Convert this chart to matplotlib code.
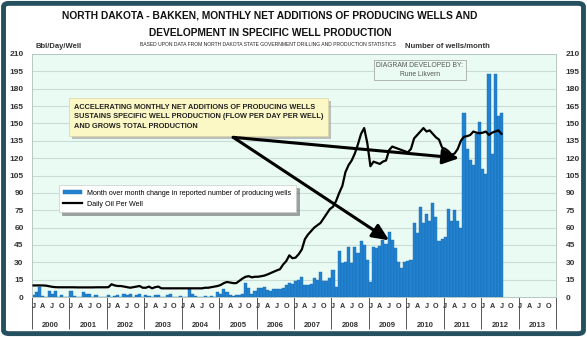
import numpy as np
import matplotlib
matplotlib.use('Agg')
import matplotlib.pyplot as plt
from matplotlib.patches import Rectangle, FancyBboxPatch
from matplotlib.lines import Line2D
from matplotlib.patches import Patch

plt.rcParams['font.family'] = ['Liberation Sans', 'DejaVu Sans']

# month over month change in number of producing wells (right axis)
wells_2000 = [2, 4, 9, 1, 0, 5, 3, 5, 0, 2, 0, 0]
wells_2001 = [5, 1, 0, 0, 4, 3, 3, 0, 2, 0, 0, 0]
wells_2002 = [2, 0, 1, 2, 0, 3, 2, 3, 0, 2, 3, 0]
wells_2003 = [2, 1, 0, 2, 2, 0, 0, 2, 3, 0, 0, 1]
wells_2004 = [0, 0, 7, 3, 1, 0, 0, 1, 0, 1, 0, 4]
wells_2005 = [3, 7, 4, 2, 1, 2, 2, 3, 12, 8, 3, 5]
wells_2006 = [8, 8, 9, 6, 5, 7, 7, 7, 8, 10, 12, 11]
wells_2007 = [14, 15, 17, 10, 10, 11, 16, 15, 22, 14, 14, 16]
wells_2008 = [23, 9, 40, 29, 30, 43, 29, 43, 38, 48, 45, 32]
wells_2009 = [13, 43, 42, 44, 49, 46, 56, 49, 42, 30, 25, 30]
wells_2010 = [31, 32, 64, 55, 78, 64, 72, 66, 81, 69, 48, 50]
wells_2011 = [52, 76, 66, 75, 66, 60, 159, 128, 118, 114, 141, 151]
wells_2012 = [111, 106, 193, 124, 193, 156, 159]

# daily oil per well, bbl/day/well (left axis)
oil_2000 = [10, 10, 10, 10, 9.8, 9.3, 8.8, 8.5, 8.4, 8.4, 8.4, 8.4]
oil_2001 = [8.4, 8.4, 8.3, 8.3, 8.3, 8.3, 8.3, 8.3, 8.4, 8.4, 8.4, 8.4]
oil_2002 = [8.5, 11, 10, 9.5, 9.5, 9, 8.5, 8, 8.5, 9, 9.5, 8]
oil_2003 = [8, 9, 7.5, 8.5, 9, 7.5, 7.5, 7.5, 7.5, 7.5, 7.5, 7.5]
oil_2004 = [7.5, 7.5, 7.5, 7.5, 7.5, 7.5, 7.5, 8, 8, 8.5, 9, 9.5]
oil_2005 = [10.4, 12, 13, 12.5, 12, 12, 14, 16, 17.5, 18, 17, 17.5]
oil_2006 = [17.5, 18, 18.5, 19.5, 20.7, 22, 23, 24, 28, 31, 36, 33.5]
oil_2007 = [34, 37, 41, 50, 54, 57, 60, 62, 64, 68, 72, 76]
oil_2008 = [78, 83, 90, 96, 108, 114, 118, 124, 132, 141, 146, 133]
oil_2009 = [113, 117, 116, 115, 117, 118, 127, 130, 129, 128, 127, 126]
oil_2010 = [125, 128, 137, 140, 143, 146, 143, 144, 141, 138, 136, 129]
oil_2011 = [128, 126, 123, 124, 128, 135, 138.5, 139, 140, 143, 142, 141.5]
oil_2012 = [142, 143, 140, 142, 143, 144, 141]

years = list(range(2000, 2014))
month_letters = ['J', 'A', 'J', 'O']
y_ticks = list(range(0, 211, 15))

wells = np.array(wells_2000 + wells_2001 + wells_2002 + wells_2003 + wells_2004 +
                 wells_2005 + wells_2006 + wells_2007 + wells_2008 + wells_2009 +
                 wells_2010 + wells_2011 + wells_2012)
oil = np.array(oil_2000 + oil_2001 + oil_2002 + oil_2003 + oil_2004 + oil_2005 +
               oil_2006 + oil_2007 + oil_2008 + oil_2009 + oil_2010 + oil_2011 + oil_2012)

W, H = 587, 337
fig = plt.figure(figsize=(W / 100, H / 100), dpi=100)
fig.patch.set_facecolor('white')

# outer frame
frame = FancyBboxPatch((0.006, 0.01), 0.988, 0.98, boxstyle='round,pad=0,rounding_size=0.01',
                       transform=fig.transFigure, facecolor='none', edgecolor='#24505f',
                       linewidth=3.5, zorder=10)
fig.patches.append(frame)

left, right, bottom, top = 32 / W, 556 / W, (H - 297) / H, (H - 54) / H
ax = fig.add_axes([left, bottom, right - left, top - bottom])
ax.set_facecolor('#eafbf4')

nmonths = len(years) * 12
xb = np.arange(len(wells)) + 0.5
xl = np.arange(len(oil)) + 0.5

ax.set_xlim(0, nmonths)
ax.set_ylim(0, 210)
ax.set_yticks(y_ticks)
ax.grid(axis='y', color='#c9ddd6', linewidth=0.8)
ax.set_axisbelow(True)

ax2 = ax.twinx()
ax2.set_ylim(0, 210)
ax2.set_yticks(y_ticks)

ax2.bar(xb, wells, width=1.0, color='#2282d0', edgecolor='#1a6cb2', linewidth=0.3, zorder=2)
ax2.plot(xl, oil, color='black', linewidth=1.6, zorder=3)

for a in (ax, ax2):
    a.set_xticks([])
    for s in a.spines.values():
        s.set_color('#b8c8c2')
        s.set_linewidth(0.6)
    a.tick_params(axis='y', length=0, labelsize=6, labelcolor='#333333')
ax.tick_params(axis='y', pad=6)
ax2.tick_params(axis='y', pad=7)
for lab in ax.get_yticklabels() + ax2.get_yticklabels():
    lab.set_fontweight('bold')

# category axis: month letters, years, separators
tr = ax.get_xaxis_transform()
for i, yr in enumerate(years):
    for k, ml in enumerate(month_letters):
        ax.text(i * 12 + k * 3 + 0.5, -0.038, ml, transform=tr, ha='center', va='center',
                fontsize=5.2, fontweight='bold', color='#333333')
    ax.text(i * 12 + 6, -0.118, str(yr), transform=tr, ha='center', va='center',
            fontsize=5.5, fontweight='bold', color='#333333')
ax.vlines(np.arange(0, nmonths + 1, 12), -0.13, 0, transform=tr, colors='#555555',
          linewidth=0.7, clip_on=False)

# titles
fig.text(270 / W, 1 - 16 / H, 'NORTH DAKOTA - BAKKEN, MONTHLY NET ADDITIONS OF PRODUCING WELLS AND',
         ha='center', va='center', fontsize=7.4, fontweight='bold', color='#111111')
fig.text(270 / W, 1 - 33 / H, 'DEVELOPMENT IN SPECIFIC WELL PRODUCTION',
         ha='center', va='center', fontsize=7.4, fontweight='bold', color='#111111')
fig.text(268 / W, 1 - 45 / H,
         'BASED UPON DATA FROM NORTH DAKOTA STATE GOVERNMENT DRILLING AND PRODUCTION STATISTICS',
         ha='center', va='center', fontsize=3.6, color='#222222')
fig.text(35 / W, 1 - 47 / H, 'Bbl/Day/Well', ha='left', va='center', fontsize=5.5,
         fontweight='bold', color='#333333')
fig.text(490 / W, 1 - 47 / H, 'Number of wells/month', ha='right', va='center', fontsize=5.5,
         fontweight='bold', color='#333333')

# annotation box
bx0, bx1 = (69 - 32) / 524, (328 - 32) / 524
by0, by1 = (297 - 136) / 243, (297 - 98) / 243
ax2.add_patch(Rectangle((bx0 + 0.006, by0 - 0.012), bx1 - bx0, by1 - by0, transform=ax.transAxes,
                        facecolor='#9a9a9a', edgecolor='none', alpha=0.6, zorder=5))
ax2.add_patch(Rectangle((bx0, by0), bx1 - bx0, by1 - by0, transform=ax.transAxes,
                        facecolor='#fcf8c6', edgecolor='#dcd6a0', linewidth=0.5, zorder=6))
ax2.text(bx0 + 0.010, (by0 + by1) / 2,
         'ACCELERATING MONTHLY NET ADDITIONS OF PRODUCING WELLS\n'
         'SUSTAINS SPECIFIC WELL PRODUCTION (FLOW PER DAY PER WELL)\n'
         'AND GROWS TOTAL PRODUCTION',
         transform=ax.transAxes, ha='left', va='center', fontsize=5.35, fontweight='bold',
         color='#222222', linespacing=1.5, zorder=7)

# developed-by box
ax2.text((420 - 32) / 524, (297 - 70) / 243, 'DIAGRAM DEVELOPED BY:\nRune Likvern',
         transform=ax.transAxes, ha='center', va='center', fontsize=4.9, color='#555555',
         linespacing=1.4, zorder=7,
         bbox=dict(boxstyle='square,pad=0.35', facecolor='#eafbf4', edgecolor='#999999',
                   linewidth=0.5))

# arrows
arrow_kw = dict(arrowstyle='-|>,head_length=1.0,head_width=0.45', color='black', lw=2.2,
                shrinkA=0, shrinkB=0)
ax2.annotate('', xy=(137, 120), xytext=(64.5, 138), arrowprops=arrow_kw, zorder=8)
ax2.annotate('', xy=(114.5, 49), xytext=(64.5, 138), arrowprops=arrow_kw, zorder=8)

# legend
handles = [Patch(facecolor='#2282d0', edgecolor='#1a6cb2', linewidth=0.3),
           Line2D([0], [0], color='black', linewidth=1.6)]
labels = ['Month over month change in reported number of producing wells', 'Daily Oil Per Well']
leg = ax2.legend(handles, labels, loc='lower left', bbox_to_anchor=(0.045, 0.335), fontsize=5.1,
                 frameon=True, fancybox=False, shadow=True, borderpad=0.6, handlelength=2.6,
                 handleheight=0.6, labelspacing=0.6)
leg.get_frame().set_edgecolor('#cccccc')
leg.get_frame().set_linewidth(0.5)
leg.set_zorder(9)

fig.savefig('out.png', dpi=100)
